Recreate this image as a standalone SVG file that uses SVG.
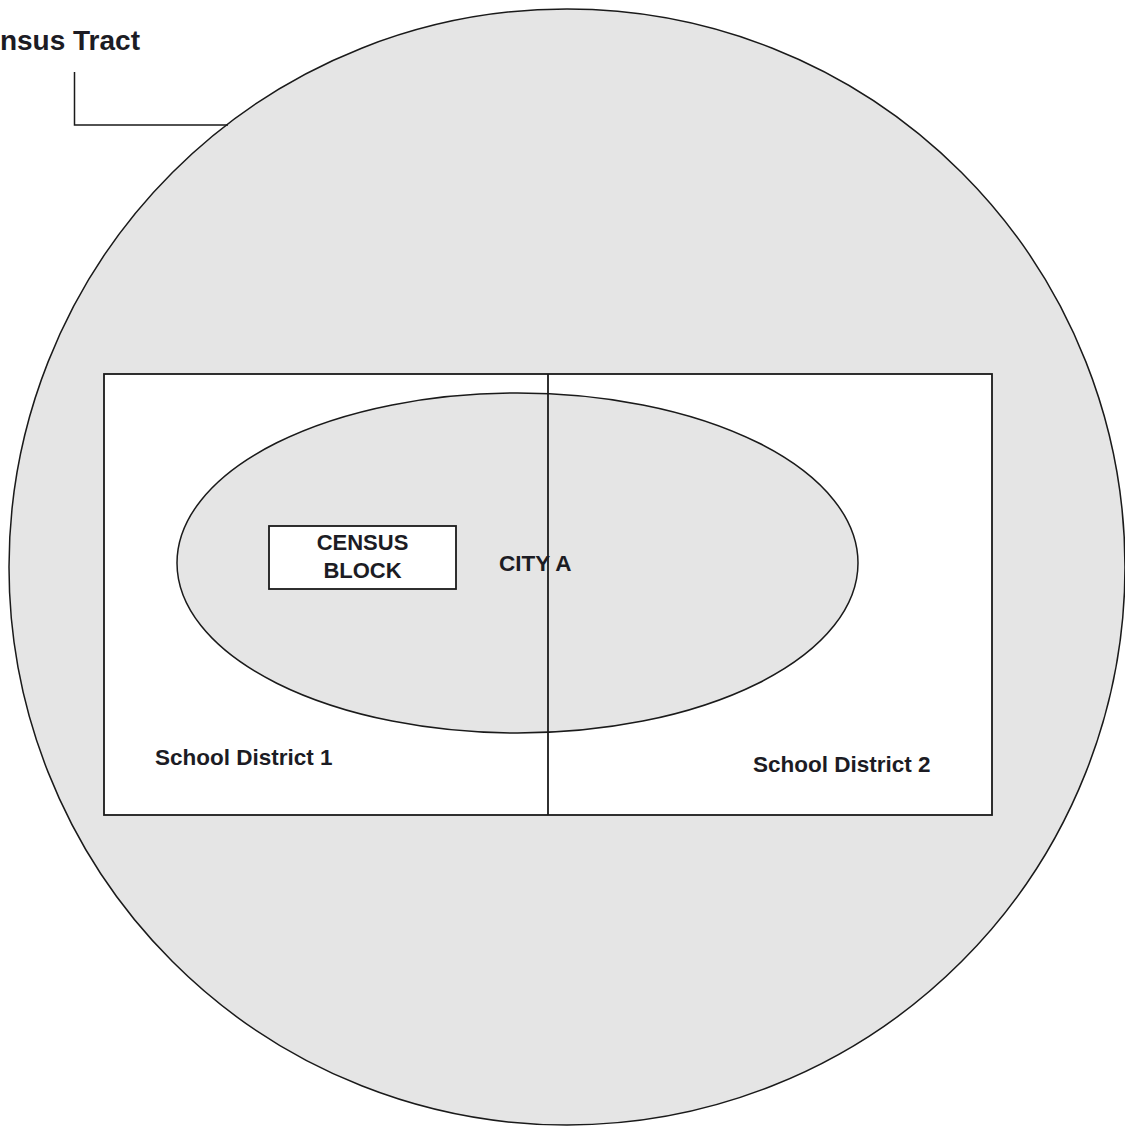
<svg xmlns="http://www.w3.org/2000/svg" width="1125" height="1127" viewBox="0 0 1125 1127">
<style>
.ln{fill:none;stroke:#1a1a1a;stroke-width:1.5}
.gray{fill:#e5e5e5;stroke:#1a1a1a;stroke-width:1.5}
.wh{fill:#ffffff;stroke:#1a1a1a;stroke-width:1.8}
.t{font-family:"Liberation Sans",Arial,sans-serif;font-weight:bold;fill:#1c1c24}
</style>
<rect width="1125" height="1127" fill="#ffffff"/>
<g id="census-tract">
<circle class="gray" cx="567" cy="567" r="558"/>
</g>
<g id="school-districts">
<rect class="wh" x="104" y="374" width="888" height="441"/>
</g>
<g id="city-a">
<ellipse class="gray" cx="517.5" cy="563" rx="340.5" ry="170"/>
</g>
<g id="divider">
<line class="ln" x1="548" y1="374" x2="548" y2="815" style="stroke-width:1.8"/>
</g>
<g id="census-block">
<rect class="wh" x="269" y="526" width="187" height="63"/>
<text class="t" x="362.5" y="550" font-size="22" text-anchor="middle">CENSUS</text>
<text class="t" x="362.5" y="577.5" font-size="22" text-anchor="middle">BLOCK</text>
</g>
<g id="labels">
<text class="t" x="499" y="571" font-size="22.5">CITY A</text>
<text class="t" x="155" y="765" font-size="22.5">School District 1</text>
<text class="t" x="753" y="772" font-size="22.5">School District 2</text>
<text class="t" x="140" y="50" font-size="28" text-anchor="end">Census Tract</text>
</g>
<g id="connectors">
<polyline class="ln" points="74.5,72 74.5,125 228,125"/>
</g>
</svg>
